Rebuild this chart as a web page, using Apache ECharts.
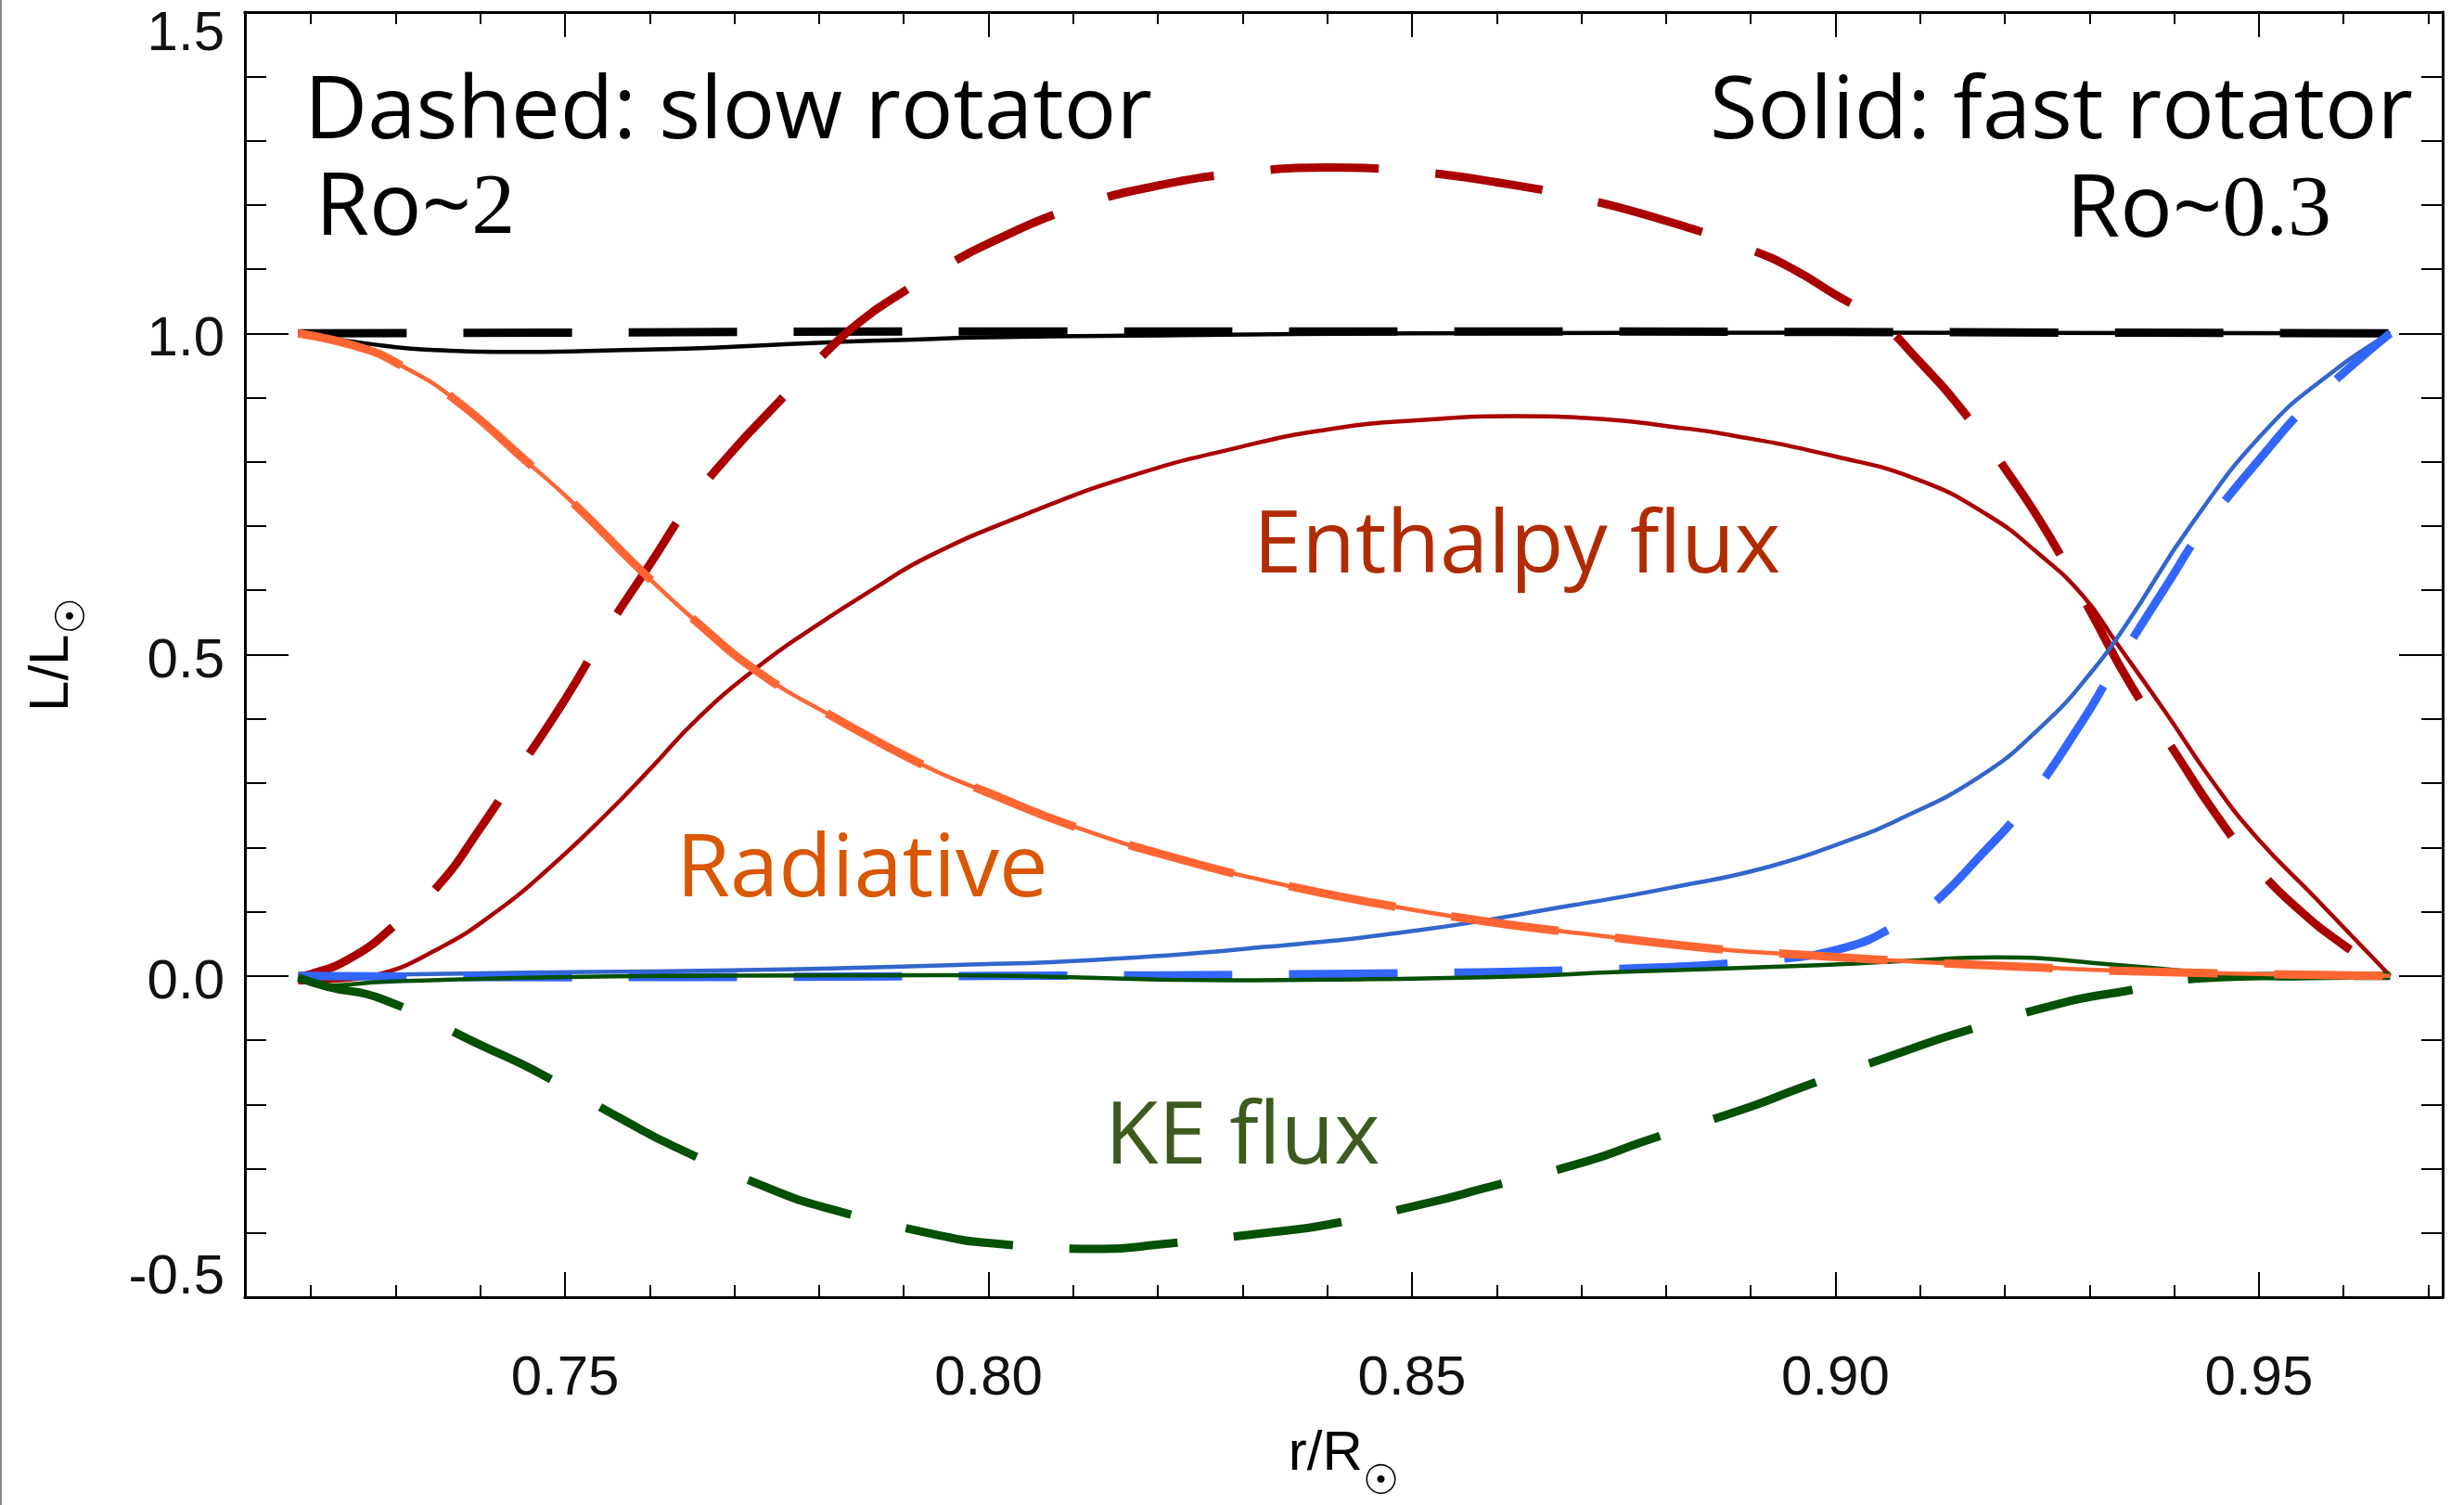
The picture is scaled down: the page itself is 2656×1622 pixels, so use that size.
<!DOCTYPE html>
<html>
<head>
<meta charset="utf-8">
<script src="https://cdn.jsdelivr.net/npm/echarts@6/dist/echarts.min.js"></script>
<style>
html,body{margin:0;padding:0;background:#fff;}
#chart{width:2656px;height:1622px;}
</style>
</head>
<body>
<div id="chart"></div>
<script>
// ---------------- data ----------------
const X_MIN = 0.7122, X_MAX = 0.9717;
const xMajorTicks = [0.75, 0.80, 0.85, 0.90, 0.95];
const xMinorTicks = [0.72,0.73,0.74,0.75,0.76,0.77,0.78,0.79,0.80,0.81,0.82,0.83,0.84,0.85,0.86,0.87,0.88,0.89,0.90,0.91,0.92,0.93,0.94,0.95,0.96,0.97];
const Y_MIN = -0.5, Y_MAX = 1.5, Y_STEP = 0.5;

// Total luminosity (black)
const totalSlowX = [0.7185,0.75,0.80,0.85,0.90,0.9655];
const totalSlowY = [1.0,1.001,1.003,1.003,1.002,1.0];
const totalFastX = [0.7185,0.7261,0.7345,0.7456,0.7568,0.768,0.7792,0.7903,0.80,0.8225,0.85,0.90,0.9655];
const totalFastY = [1.0,0.985,0.974,0.971,0.974,0.978,0.985,0.990,0.994,0.997,1.0,1.001,1.0];

// Enthalpy flux (dark red)
const enthSlowX = [0.7185,0.72,0.725,0.73,0.735,0.74,0.745,0.75,0.755,0.76,0.765,0.77,0.775,0.78,0.785,0.79,0.795,0.80,0.81,0.82,0.83,0.84,0.85,0.86,0.87,0.88,0.89,0.895,0.90,0.905,0.91,0.915,0.92,0.925,0.93,0.935,0.94,0.945,0.95,0.955,0.96,0.9655];
const enthSlowY = [0.0,0.003,0.03,0.08,0.14,0.23,0.33,0.43,0.54,0.64,0.74,0.82,0.89,0.96,1.02,1.065,1.105,1.14,1.195,1.23,1.25,1.258,1.252,1.235,1.21,1.175,1.13,1.10,1.06,1.02,0.955,0.88,0.79,0.69,0.57,0.45,0.35,0.25,0.165,0.10,0.048,0.0];
const enthFastX = [0.7185,0.722,0.7272,0.735,0.7423,0.7479,0.7546,0.7602,0.7657,0.7727,0.7792,0.7864,0.7931,0.8047,0.8166,0.8284,0.8403,0.8522,0.862,0.873,0.8805,0.8875,0.8998,0.9098,0.918,0.9239,0.9292,0.9332,0.9391,0.9444,0.9497,0.9567,0.9655];
const enthFastY = [-0.01,-0.008,0.0,0.042,0.104,0.165,0.248,0.324,0.401,0.480,0.541,0.602,0.654,0.720,0.777,0.819,0.851,0.866,0.871,0.866,0.855,0.842,0.809,0.772,0.717,0.658,0.592,0.518,0.408,0.305,0.216,0.121,0.0];

// Radiative flux (orange) - slow and fast coincide
const radX = [0.7185,0.7261,0.7305,0.7367,0.7456,0.7512,0.7585,0.7657,0.773,0.7814,0.7926,0.7996,0.8106,0.8225,0.8344,0.8462,0.8581,0.87,0.8859,0.8947,0.9081,0.9248,0.9416,0.9655];
const radSlowY = [1.0,0.977,0.951,0.900,0.799,0.733,0.637,0.549,0.471,0.405,0.326,0.287,0.230,0.182,0.143,0.112,0.086,0.066,0.042,0.034,0.023,0.0125,0.005,0.0];
const radFastY = [1.0,0.977,0.951,0.900,0.799,0.733,0.637,0.549,0.471,0.405,0.326,0.287,0.230,0.182,0.143,0.112,0.086,0.066,0.042,0.034,0.023,0.0125,0.005,0.0];

// Blue flux
const blueFastX = [0.7185,0.7456,0.76,0.7791,0.7963,0.8127,0.8326,0.8508,0.869,0.8805,0.8922,0.9024,0.9068,0.9168,0.9244,0.9303,0.9344,0.942,0.9508,0.9585,0.9655];
const blueFastY = [0.0,0.005,0.007,0.011,0.017,0.025,0.045,0.071,0.110,0.137,0.170,0.215,0.239,0.308,0.389,0.474,0.548,0.702,0.849,0.938,1.0];
const blueSlowX = [0.7185,0.75,0.80,0.84,0.8745,0.8913,0.9014,0.908,0.911,0.9174,0.9221,0.9292,0.9327,0.9394,0.9432,0.9511,0.9558,0.9655];
const blueSlowY = [0.0,-0.002,0.0,0.003,0.011,0.024,0.045,0.084,0.106,0.191,0.261,0.397,0.474,0.614,0.691,0.820,0.888,1.0];

// KE flux (dark green)
const keFastX = [0.7185,0.7217,0.7289,0.762,0.7955,0.8284,0.845,0.8617,0.8745,0.8949,0.9081,0.919,0.9332,0.9457,0.9542,0.9655];
const keFastY = [-0.002,-0.015,-0.009,0.0,0.001,-0.007,-0.005,-0.001,0.006,0.015,0.023,0.029,0.017,0.003,-0.004,0.0];
const keSlowX = [0.7185,0.722,0.7284,0.7404,0.7462,0.757,0.7628,0.7749,0.7811,0.7939,0.8002,0.8135,0.8201,0.8334,0.8401,0.852,0.8584,0.8708,0.8775,0.8899,0.8957,0.9082,0.914,0.9265,0.9332,0.9456,0.955,0.9655];
const keSlowY = [-0.003,-0.017,-0.036,-0.110,-0.146,-0.225,-0.265,-0.335,-0.362,-0.403,-0.416,-0.425,-0.418,-0.399,-0.387,-0.353,-0.331,-0.288,-0.257,-0.204,-0.175,-0.117,-0.091,-0.043,-0.026,-0.002,0.0,0.0];

// ---------------- styling ----------------
const DASH = [117, 61];
const W_SOLID = 4.5, W_DASH = 9;
const C_BLACK = '#000000', C_RED = '#aa0000', C_ORANGE = '#ff6633',
      C_BLUE_S = '#3366cc', C_BLUE_D = '#3366ff', C_GREEN = '#045004';
const TICK_FONT = 'Liberation Sans';
const ANNOT_SIZE = 94;

const pairs = (xs, ys) => xs.map((x, i) => [x, ys[i]]);

function line(name, xs, ys, color, dashed, z) {
  return {
    type: 'line', name: name, data: pairs(xs, ys),
    xAxisIndex: 0, yAxisIndex: 0,
    showSymbol: false, symbol: 'none',
    smooth: 0.5,
    lineStyle: { color: color, width: dashed ? W_DASH : W_SOLID, type: dashed ? DASH : 'solid', cap: 'butt', join: 'round' },
    z: z, silent: true, animation: false
  };
}

function nameRich(subPad) {
  return {
    a: { fontSize: 60, fontFamily: TICK_FONT, color: '#000', verticalAlign: 'top' },
    b: { fontSize: 44, fontFamily: 'DejaVu Sans', color: '#000', padding: [subPad, 0, 0, 0], verticalAlign: 'top' }
  };
}

function xAxisDef(position, ticks, len, withLabel) {
  const ax = {
    type: 'value', min: X_MIN, max: X_MAX, position: position,
    axisLine: { show: true, onZero: false, lineStyle: { color: '#000', width: 3 } },
    axisTick: { show: true, inside: true, length: len, customValues: ticks, lineStyle: { color: '#000', width: 2 } },
    axisLabel: { show: withLabel, customValues: ticks, formatter: v => v.toFixed(2),
                 fontSize: 60, fontFamily: TICK_FONT, color: '#111', margin: 58 },
    splitLine: { show: false }
  };
  if (withLabel) {
    ax.name = '{a|r/R}{b|\u2609}';
    ax.nameLocation = 'middle';
    ax.nameGap = 139;
    ax.nameTextStyle = { rich: nameRich(40) };
  }
  return ax;
}

const yLabStyle = { fontSize: 60, fontFamily: TICK_FONT, color: '#111' };
function yAxisDef(position, withLabel) {
  const ax = {
    type: 'value', min: Y_MIN, max: Y_MAX, interval: Y_STEP, position: position,
    axisLine: { show: true, onZero: false, lineStyle: { color: '#000', width: 3 } },
    axisTick: { show: true, inside: true, length: 47, lineStyle: { color: '#000', width: 2 } },
    minorTick: { show: true, splitNumber: 5, length: 23, lineStyle: { color: '#000', width: 2 } },
    axisLabel: {
      show: withLabel, fontSize: 60, fontFamily: TICK_FONT, color: '#111', margin: 22,
      formatter: v => {
        const k = v >= Y_MAX - 1e-9 ? 'top' : (v <= Y_MIN + 1e-9 ? 'bot' : 'mid');
        return '{' + k + '|' + v.toFixed(1) + '}';
      },
      rich: {
        top: Object.assign({ padding: [48, 0, 0, 0] }, yLabStyle),
        mid: Object.assign({ padding: [15, 0, 0, 0] }, yLabStyle),
        bot: Object.assign({ padding: [0, 0, 42, 0] }, yLabStyle)
      }
    },
    splitLine: { show: false }, minorSplitLine: { show: false }
  };
  if (withLabel) {
    ax.name = '{a|L/L}{b|\u2609}';
    ax.nameLocation = 'middle';
    ax.nameRotate = 90;
    ax.nameGap = 162;
    ax.nameTextStyle = { rich: nameRich(32) };
  }
  return ax;
}

function label(text, x, y, color, align, rich) {
  const st = { text: text, fontFamily: 'Open Sans', fontSize: ANNOT_SIZE, fill: color,
               align: align, textAlign: align, verticalAlign: 'middle', textVerticalAlign: 'middle' };
  if (rich) st.rich = rich;
  return { type: 'text', x: x, y: y, silent: true, z: 100, style: st };
}

const roRich = {
  s: { fontFamily: 'Open Sans', fontSize: ANNOT_SIZE, fill: '#000', color: '#000' },
  t: { fontFamily: 'Liberation Serif', fontSize: ANNOT_SIZE, fill: '#000', color: '#000' }
};

const option = {
  backgroundColor: '#ffffff',
  animation: false,
  grid: { left: 264, right: 23, top: 13, bottom: 224, containLabel: false, outerBoundsMode: 'none' },
  xAxis: [
    xAxisDef('bottom', xMajorTicks, 27, true),
    xAxisDef('bottom', xMinorTicks, 13, false),
    xAxisDef('top', xMajorTicks, 27, false),
    xAxisDef('top', xMinorTicks, 13, false)
  ],
  yAxis: [
    yAxisDef('left', true),
    yAxisDef('right', false)
  ],
  series: [
    line('Total (slow)', totalSlowX, totalSlowY, C_BLACK, true, 2),
    line('Total (fast)', totalFastX, totalFastY, C_BLACK, false, 3),
    line('Enthalpy (slow)', enthSlowX, enthSlowY, C_RED, true, 4),
    line('Enthalpy (fast)', enthFastX, enthFastY, C_RED, false, 5),
    line('Blue (fast)', blueFastX, blueFastY, C_BLUE_S, false, 6),
    line('Blue (slow)', blueSlowX, blueSlowY, C_BLUE_D, true, 7),
    line('KE (fast)', keFastX, keFastY, C_GREEN, false, 8),
    line('KE (slow)', keSlowX, keSlowY, C_GREEN, true, 9),
    line('Radiative (slow)', radX, radSlowY, C_ORANGE, true, 10),
    line('Radiative (fast)', radX, radFastY, C_ORANGE, false, 11)
  ],
  graphic: [
    { type: 'rect', x: 0, y: 0, shape: { x: 0, y: 0, width: 2, height: 1622 }, style: { fill: '#8a8a8a' }, silent: true },
    label('Dashed: slow rotator', 328, 122, '#000', 'left'),
    label('{s|Ro~}{t|2}', 340, 226, '#000', 'left', roRich),
    label('Solid: fast rotator', 2601, 122, '#000', 'right'),
    label('{s|Ro~}{t|0.3}', 2513, 228, '#000', 'right', roRich),
    label('Enthalpy flux', 1351, 590, '#b02c00', 'left'),
    label('Radiative', 729, 939, '#db5600', 'left'),
    label('KE flux', 1191, 1227, '#3e5a1f', 'left')
  ]
};

const chart = echarts.init(document.getElementById('chart'), null, { renderer: 'canvas', width: 2656, height: 1622 });
chart.setOption(option);
</script>
</body>
</html>
